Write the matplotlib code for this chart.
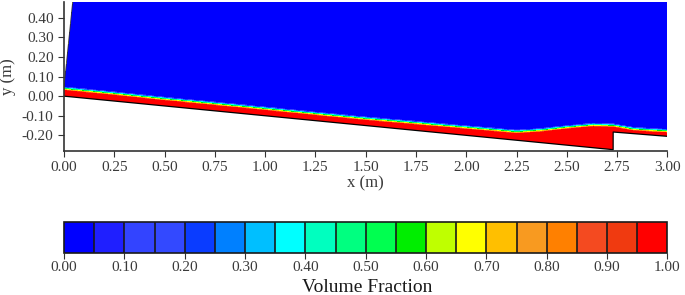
import numpy as np
import matplotlib
matplotlib.use('Agg')
import matplotlib.pyplot as plt
from matplotlib.colors import ListedColormap, BoundaryNorm
import matplotlib.cm as cm

plt.rcParams['font.family'] = ['Liberation Serif', 'DejaVu Serif']
plt.rcParams['axes.unicode_minus'] = False

# free surface profile (x, y in m)
surf_x = [0.0, 0.25, 0.5, 0.75, 1.0, 1.25, 1.5, 1.75, 2.0, 2.25, 2.37, 2.5, 2.63, 2.73, 2.83, 2.92, 3.0]
surf_y = [0.04, 0.015, -0.012, -0.037, -0.062, -0.088, -0.113, -0.135, -0.158, -0.180,
          -0.172, -0.157, -0.145, -0.148, -0.166, -0.172, -0.176]

# channel bed with the step
bed_x = [0.0, 2.73, 2.7301, 3.0]
bed_y = [0.0, -0.273, -0.183, -0.205]

# inlet boundary (top left)
inlet_x = [0.0, 0.043]
inlet_y = [0.045, 0.48]

levels = np.linspace(0, 1, 21)
vf_colors = ['#0000ff', '#1f1fff', '#3344ff', '#3349ff', '#0a3cff', '#0080ff', '#00bfff',
             '#00ffff', '#00ffbf', '#00ff80', '#00ff50', '#00ee00', '#bfff00', '#ffff00',
             '#ffbf00', '#f89a20', '#ff8000', '#f44a20', '#f03a10', '#ff0000']
cbar_ticks = np.arange(0, 1.001, 0.1)

cmap = ListedColormap(vf_colors)
norm = BoundaryNorm(levels, cmap.N)

# build volume fraction field from interface
x = np.linspace(0, 3, 1500)
y = np.linspace(-0.28, 0.48, 700)
X, Y = np.meshgrid(x, y)
S = np.interp(X, surf_x, surf_y)
B = np.interp(X, bed_x, bed_y)
w = 0.022
alpha = np.clip(0.5 - (Y - S) / w, 0, 1)
mask = Y < B
xin = np.interp(Y, inlet_y, inlet_x, left=0.0)
mask |= (Y > inlet_y[0]) & (X < xin)
alpha = np.ma.masked_array(alpha, mask)

fig = plt.figure(figsize=(6.85, 2.95), dpi=100)
ax = fig.add_axes([0.0934, 0.488, 0.881, 0.505])
ax.pcolormesh(X, Y, alpha, cmap=cmap, norm=norm, shading='auto', rasterized=True)
ax.plot(bed_x, bed_y, color='black', lw=0.9)
ax.plot(inlet_x, inlet_y, color='#333333', lw=0.6)

ax.set_xlim(0, 3.0)
ax.set_ylim(-0.28, 0.48)
ax.set_xticks(np.arange(0, 3.01, 0.25))
ax.set_yticks(np.arange(-0.2, 0.41, 0.1))
ax.xaxis.set_major_formatter('{x:.2f}')
ax.yaxis.set_major_formatter('{x:.2f}')
ax.tick_params(labelsize=11, colors='#333333', labelcolor='#3a3a3a', length=4)
for side in ['top', 'right']:
    ax.spines[side].set_visible(False)
for side in ['left', 'bottom']:
    ax.spines[side].set_color('#333333')
    ax.spines[side].set_linewidth(1.2)
ax.set_xlabel('x (m)', fontsize=12, color='#3a3a3a', labelpad=1)
ax.set_ylabel('y (m)', fontsize=12, color='#3a3a3a', labelpad=4)

cax = fig.add_axes([0.0934, 0.143, 0.881, 0.105])
sm = cm.ScalarMappable(norm=norm, cmap=cmap)
cb = fig.colorbar(sm, cax=cax, orientation='horizontal', drawedges=True, ticks=cbar_ticks)
cb.ax.xaxis.set_major_formatter('{x:.2f}')
cb.dividers.set_color('#1a1a1a')
cb.dividers.set_linewidth(1.2)
cb.outline.set_color('#1a1a1a')
cb.outline.set_linewidth(1.2)
cb.ax.tick_params(labelsize=11, colors='#333333', labelcolor='#3a3a3a', length=4, pad=2)
cb.ax.minorticks_off()
fig.text(0.536, 0.027, 'Volume Fraction', fontsize=14, color='#1a1a1a', ha='center', va='center')

fig.savefig('out.png', dpi=100)
